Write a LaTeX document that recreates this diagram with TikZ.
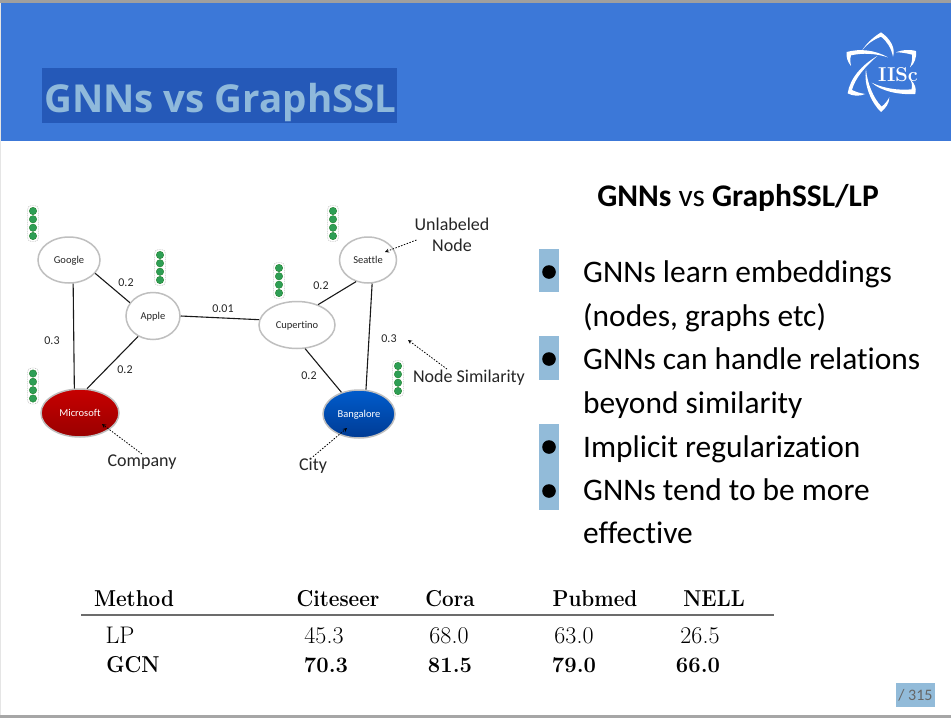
\documentclass[tikz,border=0pt]{standalone}
\usepackage{fontspec}
\usepackage{graphicx}
\usepackage{tikz}
\usetikzlibrary{calc, shapes.geometric}
\newfontfamily\bodyfont[Ligatures=NoCommon]{Carlito}
\newfontfamily\titlefont{Open Sans}
\newcommand{\squeezed}[1]{\scalebox{0.9}[1]{#1}}
\definecolor{bannerblue}{HTML}{3C78D8}
\definecolor{titleback}{HTML}{2559B8}
\definecolor{titletext}{HTML}{8FB9DB}
\definecolor{bulletback}{HTML}{92BBD9}
\definecolor{dotgreen}{HTML}{2E9E55}
\tikzset{
  city/.style={ellipse, draw=gray!50, line width=1.5pt, fill=white, inner sep=0pt, text height=7pt, text depth=1pt, font=\bodyfont\fontsize{10.5}{12}\selectfont, text=black!85},
  link/.style={line width=1.1pt, black!90},
  weight/.style={font=\bodyfont\fontsize{12}{14}\selectfont, text=black!85},
  note/.style={font=\bodyfont\fontsize{18}{21}\selectfont, text=black!85, align=center, inner sep=1pt},
  pointer/.style={->, >=stealth, line width=0.8pt, dash pattern=on 1.5pt off 1.5pt},
  feature/.style={circle, fill=dotgreen, draw=green!40!black, line width=0.2pt, minimum size=7.5pt, inner sep=0pt},
  bodyline/.style={anchor=base west, inner sep=0pt, font=\bodyfont\fontsize{31.4}{36}\selectfont},
  cell/.style={inner sep=0pt, anchor=base, font=\fontsize{24}{28}\selectfont},
  boldcell/.style={cell, font=\bfseries\fontsize{22}{26}\selectfont},
  headcell/.style={cell, font=\bfseries\fontsize{23}{26}\selectfont}
}
\begin{document}
\begin{tikzpicture}[x=1pt, y=-1pt]
  \useasboundingbox (0,0) rectangle (951,718);

  % Banner and frame
  \fill[white] (0,0) rectangle (951,718);
  \fill[gray!75] (0,0) rectangle (951,3);
  \fill[gray!70] (0,715) rectangle (951,718);
  \fill[gray!20] (0,3) rectangle (1,715);
  \fill[bannerblue] (1,3) rectangle (951,141);
  \fill[titleback] (42,68) rectangle (397,123);
  \node[anchor=base west, inner sep=0pt, text=titletext, font=\titlefont\bfseries\fontsize{38.5}{44}\selectfont] (title) at (44,112) {GNNs vs GraphSSL};

  % Logo
  \begin{scope}[shift={(800,0)}, x=0.3333pt, y=-0.3333pt]
    \fill[white] (243,97) .. controls (215,115) and (198,132) .. (186,152) .. controls (203,130) and (222,118) .. (243,110) .. controls (262,125) and (274,145) .. (279,170) .. controls (288,145) and (270,115) .. (243,97) -- cycle;
    \fill[white] (348,153) .. controls (325,147) and (305,150) .. (288,157) .. controls (305,157) and (322,160) .. (336,164) .. controls (338,178) and (335,190) .. (330,202) .. controls (345,190) and (350,170) .. (348,153) -- cycle;
    \fill[white] (140,156) .. controls (180,145) and (225,150) .. (264,172) .. controls (225,160) and (190,158) .. (153,166) .. controls (150,178) and (150,188) .. (153,198) .. controls (142,185) and (138,170) .. (140,156) -- cycle;
    \fill[white] (143,280) .. controls (150,235) and (185,195) .. (232,168) .. controls (195,200) and (165,235) .. (156,270) .. controls (168,276) and (182,280) .. (196,282) .. controls (178,290) and (158,288) .. (143,280) -- cycle;
    \fill[white] (243,336) .. controls (215,310) and (190,255) .. (198,208) .. controls (202,250) and (220,295) .. (245,320) .. controls (255,312) and (262,303) .. (268,292) .. controls (268,310) and (257,325) .. (243,336) -- cycle;
    \fill[white] (346,282) .. controls (300,285) and (245,275) .. (215,248) .. controls (250,265) and (295,272) .. (335,268) .. controls (338,258) and (336,248) .. (330,238) .. controls (345,250) and (350,265) .. (346,282) -- cycle;
  \end{scope}
  \node[inner sep=0pt, text=white, font=\bfseries\fontsize{20}{22}\selectfont] (logotext) at (898,75) {IISc};

  % Graph
  \node[city, minimum width=62pt, minimum height=46pt] (google) at (69,260) {Google};
  \node[city, minimum width=54pt, minimum height=47pt] (apple) at (153,316) {Apple};
  \node[city, minimum width=78pt, minimum height=48pt, top color=red!78!black, bottom color=red!60!black, text=white] (microsoft) at (80,413) {Microsoft};
  \node[city, minimum width=76pt, minimum height=47pt] (cupertino) at (297,325) {Cupertino};
  \node[city, minimum width=57pt, minimum height=46pt] (seattle) at (368,260) {Seattle};
  \node[city, minimum width=72pt, minimum height=48pt, top color=blue!55!cyan!80!black, bottom color=blue!60!cyan!58!black, text=white] (bangalore) at (359,414) {Bangalore};

  \draw[link] (google.-80) -- (microsoft.103);
  \draw[link] (google.-27) -- (apple.150);
  \draw[link] (apple.234) -- (microsoft.74);
  \draw[link] (apple.east) -- (cupertino.172);
  \draw[link] (cupertino.44) -- (seattle.-119);
  \draw[link] (seattle.-80) -- (bangalore.74);
  \draw[link] (cupertino.-71) -- (bangalore.129);

  % Edge weights
  \foreach \wname/\wx/\wy/\wtext in {wa/126/283/0.2, wb/223/309/0.01, wc/52/341/0.3, wd/125/370/0.2, we/321/286/0.2, wf/389/339/0.3, wg/309/376/0.2}
    \node[weight] (\wname) at (\wx,\wy) {\wtext};

  % Feature stacks
  \foreach \sx/\sy in {33/223.5, 160/267.5, 33/386, 333/223.5, 279/280.5, 398/378.5} {
    \draw[gray!80, line width=0.3pt, dash pattern=on 1pt off 0.8pt, rounded corners=4pt] (\sx-5.5,\sy-18) rectangle (\sx+5.5,\sy+18);
    \foreach \k in {-12.5,-4.2,4.2,12.5}
      \node[feature] at (\sx,\sy+\k) {};
  }

  % Annotations
  \node[note] (company) at (142,462.5) {Company};
  \node[note] (citylabel) at (313,465.5) {City};
  \node[note] (unlabeled) at (452,235) {Unlabeled\\Node};
  \node[note] (simlabel) at (469,378) {Node Similarity};
  \coordinate (companytip) at (102,424);
  \coordinate (citytip) at (347,428);
  \coordinate (unlabeledtip) at (385,252);
  \coordinate (simtip) at (408,340);
  \draw[pointer] (company.north) -- (companytip);
  \draw[pointer] (citylabel.north) -- (citytip);
  \draw[pointer] ([xshift=3pt,yshift=-5pt]unlabeled.west) -- (unlabeledtip);
  \draw[pointer] ([xshift=-22pt]simlabel.north) -- (simtip);

  % Right column
  \node[anchor=base, inner sep=0pt, font=\bodyfont\fontsize{31.5}{36}\selectfont] (heading) at (738,206.5) {\textbf{GNNs} vs \textbf{GraphSSL/LP}};
  \fill[bulletback] (539,249) rectangle (558.5,292);
  \fill[bulletback] (539,336) rectangle (558.5,380);
  \fill[bulletback] (539,424) rectangle (558.5,510);
  \foreach \by in {272,359,447,491}
    \fill[black] (549,\by) circle (6.8);
  \foreach \lname/\ly/\ltext in {la/282/GNNs learn embeddings, lb/326/{(nodes, graphs etc)}, lc/369/GNNs can handle relations, ld/413/beyond similarity, le/457/Implicit regularization, lf/500/GNNs tend to be more, lg/543/effective}
    \node[bodyline] (\lname) at (583,\ly) {\ltext};

  % Results table
  \draw[gray!85!black, line width=1.6pt] (81,615) -- (774,615);
  \foreach \cname/\cx/\ctext in {ma/134/Method, mb/338/Citeseer, mc/450/Cora, md/595/Pubmed, me/714/NELL}
    \node[headcell] (\cname) at (\cx,606) {\squeezed{\ctext}};
  \foreach \cname/\cx/\ctext in {pa/120/LP, pb/324/45.3, pc/449/68.0, pd/574/63.0, pe/700/26.5}
    \node[cell] (\cname) at (\cx,643) {\ctext};
  \node[headcell] (ga) at (133,672) {\squeezed{GCN}};
  \foreach \cname/\cx/\ctext in {gb/326/70.3, gc/450/81.5, gd/574/79.0, ge/698/66.0}
    \node[boldcell] (\cname) at (\cx,672) {\ctext};

  % Page number
  \node[fill=bulletback, minimum width=39pt, minimum height=24pt, inner sep=0pt, text=black!60, font=\bodyfont\fontsize{16}{19}\selectfont] (pagenum) at (915.5,695) {/ 315};
\end{tikzpicture}
\end{document}
